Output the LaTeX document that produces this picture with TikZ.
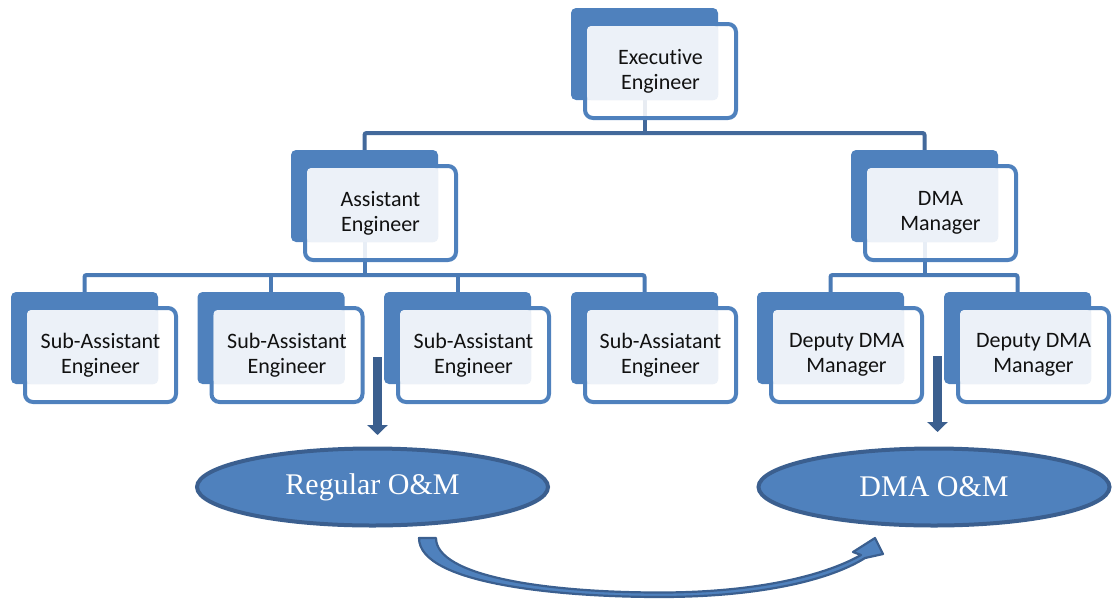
\documentclass[tikz,border=0pt]{standalone}
\usepackage{fontspec}
\setmainfont{Liberation Serif}
\newfontfamily\carlito[Ligatures=NoCommon]{Carlito}
\usetikzlibrary{shapes.geometric,arrows.meta,backgrounds}

\definecolor{boxblue}{HTML}{4F81BD}
\definecolor{darkblue}{HTML}{3B5F8F}
\definecolor{lightfill}{HTML}{ECF1F8}
\definecolor{topconn}{HTML}{43699B}
\definecolor{midconn}{HTML}{4A7AB5}
\definecolor{textgrey}{HTML}{111111}

\tikzset{
  backbox/.style={rectangle, rounded corners=5pt, fill=boxblue, draw=none,
    minimum width=147pt, minimum height=92pt, inner sep=0pt, outer sep=0pt,
    anchor=north west},
  frontbox/.style={rectangle, rounded corners=8pt, draw=boxblue, line width=4pt,
    fill=white, fill opacity=0.88, minimum width=151pt, minimum height=94pt,
    inner sep=0pt, outer sep=0pt, anchor=north west},
  boxlabel/.style={align=center, text=textgrey, inner sep=0pt,
    font=\carlito\fontsize{22}{25}\selectfont},
  conn/.style={line width=4pt, rounded corners=2pt},
  downarrow/.style={line width=9pt, draw=darkblue,
    -{Triangle[width=20pt,length=10pt]}},
  omell/.style={ellipse, fill=boxblue, draw=darkblue, line width=4pt,
    minimum width=351pt, minimum height=77pt, inner sep=0pt, text=white,
    font=\fontsize{30}{33}\selectfont},
}

% one chart unit: solid back card, outlined front card, pale text panel, label
\newcommand{\orgunit}[4]{%
  \node[backbox] (#1) at (#2,#3) {};
  \node[frontbox] (#1-f) at (#2+14,#3+16) {};
  \fill[lightfill, rounded corners=4pt] (#2+16,#3+18) rectangle (#2+147,#3+92);
  \node[boxlabel] (#1-t) at (#1-f.center) {#4};
}

\begin{document}
\begin{tikzpicture}[x=1pt,y=-1pt]
\useasboundingbox (0,0) rectangle (1113,600);

% cards
\orgunit{exec}{571}{8}{Executive\\Engineer}
\orgunit{asst}{291}{150}{Assistant\\Engineer}
\orgunit{dma}{851}{150}{DMA\\Manager}
\orgunit{sa1}{11}{292}{Sub-Assistant\\Engineer}
\orgunit{sa2}{197.5}{292}{Sub-Assistant\\Engineer}
\orgunit{sa3}{384}{292}{Sub-Assistant\\Engineer}
\orgunit{sa4}{571}{292}{Sub-Assiatant\\Engineer}
\orgunit{dd1}{757}{292}{Deputy DMA\\Manager}
\orgunit{dd2}{944}{292}{Deputy DMA\\Manager}

% bus lines behind the cards
\coordinate (bus1) at (0,133);
\coordinate (bus2) at (0,275);
\begin{pgfonlayer}{background}
  \draw[conn, topconn] (exec.south) -- (exec.south |- bus1);
  \draw[conn, topconn] (asst.north) |- (bus1 -| dma.north) -- (dma.north);
  \draw[conn, midconn] (asst.south) -- (asst.south |- bus2);
  \draw[conn, midconn] (sa1.north) |- (bus2 -| sa4.north) -- (sa4.north);
  \draw[conn, midconn] (sa2.north) -- (sa2.north |- bus2);
  \draw[conn, midconn] (sa3.north) -- (sa3.north |- bus2);
  \draw[conn, midconn] (dma.south) -- (dma.south |- bus2);
  \draw[conn, midconn] (dd1.north) |- (bus2 -| dd2.north) -- (dd2.north);
\end{pgfonlayer}

% work streams
\node[omell] (reg) at (372.5,487) {Regular O\&M};
\node[omell] (dmaom) at (934,487) {DMA O\&M};

% downward arrows into the work streams
\coordinate (a1s) at (377.5,357);
\coordinate (a1e) at (377.5,435);
\coordinate (a2s) at (937.5,356);
\coordinate (a2e) at (937.5,432);
\draw[downarrow] (a1s) -- (a1e);
\draw[downarrow] (a2s) -- (a2e);

% curved arrow from regular to DMA operations
\filldraw[fill=boxblue, draw=darkblue, line width=2.2pt, line join=round]
  (419,538) .. controls (419,584) and (560,597) .. (660,597)
  .. controls (760,597) and (830,580) .. (865,558)
  -- (883,554) -- (875,538) -- (853,552) -- (861,555)
  .. controls (822,577) and (752,592.5) .. (660,592.5)
  .. controls (545,592.5) and (436,576) .. (436,538) -- cycle;
\end{tikzpicture}
\end{document}
